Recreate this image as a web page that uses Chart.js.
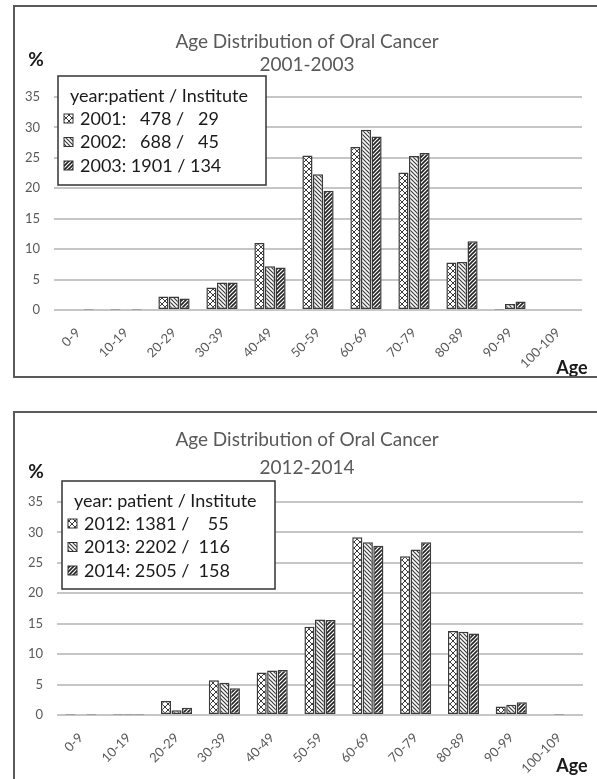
<!DOCTYPE html>
<html>
<head>
<meta charset="utf-8">
<script src="https://cdn.jsdelivr.net/npm/chart.js@4.4.1/dist/chart.umd.min.js"></script>
<style>
  html, body { margin: 0; padding: 0; background: #fff; overflow: hidden; width: 597px; height: 779px; }
  .box { position: absolute; left: 13px; width: 600px; border: 2px solid #5a5a5a; background: #fff; }
  #boxTop { top: 5px; height: 369px; }
  #boxBottom { top: 411px; height: 380px; }
  canvas { display: block; }
</style>
</head>
<body>
<div class="box" id="boxTop"><canvas id="chartTop" width="582" height="369"></canvas></div>
<div class="box" id="boxBottom"><canvas id="chartBottom" width="582" height="370"></canvas></div>
<script>
const ageGroups = ['0-9', '10-19', '20-29', '30-39', '40-49', '50-59', '60-69', '70-79', '80-89', '90-99', '100-109'];
const yTicks = [0, 5, 10, 15, 20, 25, 30, 35];

// 2001-2003 (%)
const pct2001 = [0, 0.1, 2.2, 3.7, 11.0, 25.4, 26.8, 22.6, 7.8, 0.1, 0];
const pct2002 = [0, 0, 2.2, 4.5, 7.2, 22.3, 29.6, 25.3, 7.9, 1.0, 0];
const pct2003 = [0.1, 0.1, 1.9, 4.5, 7.0, 19.6, 28.5, 25.8, 11.3, 1.4, 0];
const legendTop = ['2001:   478 /   29', '2002:   688 /   45', '2003: 1901 / 134'];

// 2012-2014 (%)
const pct2012 = [0.1, 0.1, 2.3, 5.7, 7.0, 14.5, 29.2, 26.1, 13.8, 1.4, 0];
const pct2013 = [0, 0.1, 0.8, 5.3, 7.3, 15.7, 28.4, 27.2, 13.7, 1.7, 0.1];
const pct2014 = [0.1, 0.1, 1.2, 4.4, 7.4, 15.6, 27.8, 28.4, 13.4, 2.1, 0];
const legendBottom = ['2012: 1381 /    55', '2013: 2202 /  116', '2014: 2505 /  158'];

const FONT = 'Lato, "Open Sans", sans-serif';

function makePattern(kind) {
  const c = document.createElement('canvas');
  const s = kind === 'cross' ? 6 : 4;
  c.width = s; c.height = s;
  const g = c.getContext('2d');
  g.fillStyle = '#fff';
  g.fillRect(0, 0, s, s);
  g.strokeStyle = kind === 'up' ? '#222' : '#3a3a3a';
  g.lineWidth = kind === 'up' ? 1.6 : (kind === 'down' ? 1.2 : 1);
  g.beginPath();
  if (kind === 'cross' || kind === 'down') {
    g.moveTo(0, 0); g.lineTo(s, s);
    g.moveTo(-1, s - 1); g.lineTo(1, s + 1);
    g.moveTo(s - 1, -1); g.lineTo(s + 1, 1);
  }
  if (kind === 'cross' || kind === 'up') {
    g.moveTo(0, s); g.lineTo(s, 0);
    g.moveTo(-1, 1); g.lineTo(1, -1);
    g.moveTo(s - 1, s + 1); g.lineTo(s + 1, s - 1);
  }
  g.stroke();
  return g.createPattern(c, 'repeat');
}

const patterns = [makePattern('cross'), makePattern('down'), makePattern('up')];

const decor = {
  id: 'decor',
  afterDraw(chart, args, opts) {
    const ctx = chart.ctx;
    ctx.save();
    ctx.textBaseline = 'middle';
    // title
    ctx.fillStyle = '#595959';
    ctx.font = '19px ' + FONT;
    ctx.textAlign = 'center';
    ctx.fillText('Age Distribution of Oral Cancer', chart.width / 2 + 1, opts.titleY[0]);
    ctx.fillText(opts.subtitle, chart.width / 2 + 1, opts.titleY[1]);
    // axis names
    ctx.fillStyle = '#1a1a1a';
    ctx.font = 'bold 19px ' + FONT;
    ctx.fillText('%', 21, opts.pctY);
    ctx.font = 'bold 18px ' + FONT;
    ctx.fillText('Age', 557, opts.ageY);
    // legend box
    const lb = opts.legendBox;
    ctx.fillStyle = '#fff';
    ctx.fillRect(lb.x, lb.y, lb.w, lb.h);
    ctx.strokeStyle = '#333';
    ctx.lineWidth = 1.5;
    ctx.strokeRect(lb.x, lb.y, lb.w, lb.h);
    ctx.fillStyle = '#1a1a1a';
    ctx.font = '18px ' + FONT;
    ctx.textAlign = 'left';
    ctx.fillText(opts.legendTitle, lb.x + 12, lb.y + 20);
    chart.data.datasets.forEach((ds, i) => {
      const y = lb.y + 43 + i * 23.5;
      ctx.fillStyle = ds.backgroundColor;
      ctx.fillRect(lb.x + 6, y - 5, 9, 9);
      ctx.strokeStyle = '#333';
      ctx.lineWidth = 1;
      ctx.strokeRect(lb.x + 6, y - 5, 9, 9);
      ctx.fillStyle = '#1a1a1a';
      ctx.fillText(ds.label, lb.x + 22, y);
    });
    ctx.restore();
  }
};

function buildChart(id, series, labels, cfg) {
  return new Chart(document.getElementById(id), {
    type: 'bar',
    data: {
      labels: ageGroups,
      datasets: series.map((values, i) => ({
        label: labels[i],
        data: values,
        backgroundColor: patterns[i],
        borderColor: '#3a3a3a',
        borderWidth: 1.5,
        borderSkipped: false,
        barPercentage: 0.96,
        categoryPercentage: 0.66
      }))
    },
    options: {
      responsive: false,
      animation: false,
      layout: { padding: { left: 0, right: cfg.padRight, top: cfg.padTop, bottom: cfg.padBottom } },
      plugins: {
        legend: { display: false },
        tooltip: { enabled: false },
        decor: cfg.decor
      },
      scales: {
        x: {
          grid: { display: false },
          border: { display: false },
          ticks: {
            color: '#595959',
            font: { family: FONT, size: 13 },
            maxRotation: 45,
            minRotation: 45,
            autoSkip: false,
            padding: 7
          },
          afterFit: (scale) => { scale.height = 60; }
        },
        y: {
          min: 0,
          max: 35,
          border: { display: false },
          grid: { color: '#c6c6c6', lineWidth: 2, drawTicks: false },
          ticks: {
            color: '#595959',
            font: { family: FONT, size: 13 },
            padding: 14
          },
          afterBuildTicks: (scale) => { scale.ticks = yTicks.map(v => ({ value: v })); },
          afterFit: (scale) => { scale.width = cfg.yWidth; }
        }
      }
    },
    plugins: [decor]
  });
}

buildChart('chartTop', [pct2001, pct2002, pct2003], legendTop, {
  padRight: 15, padTop: 90, padBottom: 6, yWidth: 39,
  decor: {
    subtitle: '2001-2003', titleY: [35, 58], pctY: 53, ageY: 361,
    legendTitle: 'year:patient / Institute',
    legendBox: { x: 43, y: 69, w: 208, h: 109 }
  }
});

buildChart('chartBottom', [pct2012, pct2013, pct2014], legendBottom, {
  padRight: 14, padTop: 89, padBottom: 8, yWidth: 42,
  decor: {
    subtitle: '2012-2014', titleY: [27, 55], pctY: 59, ageY: 353,
    legendTitle: 'year: patient / Institute',
    legendBox: { x: 47, y: 68, w: 213, h: 108 }
  }
});
</script>
</body>
</html>
